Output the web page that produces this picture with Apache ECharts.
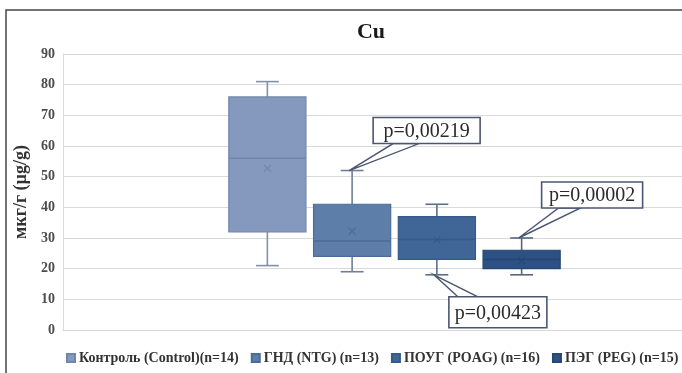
<!DOCTYPE html>
<html>
<head>
<meta charset="utf-8">
<script src="https://cdn.jsdelivr.net/npm/echarts@6/dist/echarts.min.js"></script>
<style>
  html, body { margin: 0; padding: 0; background: #ffffff; }
  #chart { width: 682px; height: 373px; }
</style>
</head>
<body>
<div id="chart"></div>
<script>
// Copper content by group, мкг/г (µg/g)
const groups = ['Контроль (Control)(n=14)', 'ГНД (NTG) (n=13)', 'ПОУГ (POAG) (n=16)', 'ПЭГ (PEG) (n=15)'];
const whiskerMin = [21, 19, 18, 18];
const quartile1 = [32, 24, 23, 20];
const medians = [56, 29, 29.5, 23];
const quartile3 = [76, 41, 37, 26];
const whiskerMax = [81, 52, 41, 30];
const means = [52.7, 32.2, 29.5, 22.7];
const yMin = 0, yMax = 90, yStep = 10;

// significance notes and the whisker end each one points at
const pLabels = ['p=0,00219', 'p=0,00423', 'p=0,00002'];
const pGroup = [1, 2, 3];
const pEnd = ['max', 'min', 'max'];

const fills = ['#8499bd', '#5d7ea9', '#3f6697', '#2d5183'];
const strokes = ['#7086ab', '#4c6c97', '#345a88', '#264673'];
const whiskerColor = ['#8290a8', '#6f7f99', '#5d6e8a', '#56677f'];
const serif = "'Liberation Serif', 'DejaVu Serif', 'Times New Roman', serif";

const chart = echarts.init(document.getElementById('chart'), null, { renderer: 'canvas' });

function renderBox(params, api) {
  const i = params.seriesIndex;
  const cat = api.value(0);
  const lo = api.coord([cat, api.value(1)]);
  const b1 = api.coord([cat, api.value(2)]);
  const md = api.coord([cat, api.value(3)]);
  const b3 = api.coord([cat, api.value(4)]);
  const hi = api.coord([cat, api.value(5)]);
  const mn = api.coord([cat, api.value(6)]);
  const band = api.size([1, 0])[0];
  const w = band * 0.91;
  const cap = band * 0.27;
  const cx = lo[0];
  const wl = { stroke: whiskerColor[i], lineWidth: 1.6 };
  const m = 3.5;
  return {
    type: 'group',
    children: [
      { type: 'line', shape: { x1: cx, y1: hi[1], x2: cx, y2: b3[1] }, style: wl },
      { type: 'line', shape: { x1: cx - cap / 2, y1: hi[1], x2: cx + cap / 2, y2: hi[1] }, style: wl },
      { type: 'line', shape: { x1: cx, y1: lo[1], x2: cx, y2: b1[1] }, style: wl },
      { type: 'line', shape: { x1: cx - cap / 2, y1: lo[1], x2: cx + cap / 2, y2: lo[1] }, style: wl },
      { type: 'rect', shape: { x: cx - w / 2, y: b3[1], width: w, height: b1[1] - b3[1] },
        style: { fill: fills[i], stroke: strokes[i], lineWidth: 1.2 } },
      { type: 'line', shape: { x1: cx - w / 2, y1: md[1], x2: cx + w / 2, y2: md[1] },
        style: { stroke: strokes[i], lineWidth: 1.4 } },
      { type: 'line', shape: { x1: cx - m, y1: mn[1] - m, x2: cx + m, y2: mn[1] + m },
        style: { stroke: strokes[i], lineWidth: 1.1 } },
      { type: 'line', shape: { x1: cx - m, y1: mn[1] + m, x2: cx + m, y2: mn[1] - m },
        style: { stroke: strokes[i], lineWidth: 1.1 } }
    ]
  };
}

const series = groups.map((name, i) => ({
  name: name,
  type: 'custom',
  xAxisIndex: 1,
  yAxisIndex: 1,
  renderItem: renderBox,
  itemStyle: { color: fills[i], borderColor: strokes[i], borderWidth: 1 },
  encode: { x: 0, y: [1, 2, 3, 4, 5, 6] },
  data: [[i, whiskerMin[i], quartile1[i], medians[i], quartile3[i], whiskerMax[i], means[i]]],
  silent: true
}));

chart.setOption({
  animation: false,
  backgroundColor: '#ffffff',
  title: {
    text: 'Cu',
    left: 366,
    top: 16,
    textAlign: 'center',
    textStyle: { fontFamily: serif, fontWeight: 'bold', fontSize: 22, color: '#1a1a1a' }
  },
  legend: {
    left: 66,
    top: 351,
    width: 616,
    padding: 0,
    icon: 'rect',
    itemWidth: 8,
    itemHeight: 8,
    itemGap: 12,
    selectedMode: false,
    textStyle: { fontFamily: serif, fontWeight: 'bold', fontSize: 14, color: '#333333', padding: [0, 0, 0, -1] },
    data: groups
  },
  grid: [
    { left: 63, top: 54, width: 662, height: 276 },
    { left: 225, top: 54, width: 339, height: 276 }
  ],
  xAxis: [
    { gridIndex: 0, type: 'category', data: [''],
      axisLine: { show: true, lineStyle: { color: '#d9d9d9', width: 1 } },
      axisTick: { show: false }, axisLabel: { show: false } },
    { gridIndex: 1, type: 'category', data: groups, show: false }
  ],
  yAxis: [
    { gridIndex: 0, type: 'value', min: yMin, max: yMax, interval: yStep,
      name: 'мкг/г (µg/g)', nameLocation: 'middle', nameGap: 31, nameRotate: 90,
      nameTextStyle: { fontFamily: serif, fontWeight: 'bold', fontSize: 18, color: '#333333' },
      axisLine: { show: true, lineStyle: { color: '#d9d9d9', width: 1 } },
      axisTick: { show: false },
      axisLabel: { fontFamily: serif, fontWeight: 'bold', fontSize: 14, color: '#4d4d4d', margin: 8 },
      splitLine: { show: true, lineStyle: { color: '#dadada', width: 1.2 } } },
    { gridIndex: 1, type: 'value', min: yMin, max: yMax, interval: yStep, show: false,
      splitLine: { show: false } }
  ],
  series: series
});

// callout boxes with a wedge pointing at a whisker end
const calloutLayout = [
  { dx: 24, dy: -53, w: 107, h: 26, base: [44, 70] },
  { dx: 15, dy: 22, w: 98, h: 31, base: [24, 44] },
  { dx: 23, dy: -56, w: 101, h: 26, base: [40, 62] }
];
const edge = '#4b5771';
const graphics = [
  { type: 'rect', silent: true, z: 0, shape: { x: 6, y: 10, width: 800, height: 420 },
    style: { fill: 'none', stroke: '#454545', lineWidth: 1.5 } }
];
pLabels.forEach((label, k) => {
  const g = pGroup[k];
  const v = pEnd[k] === 'max' ? whiskerMax[g] : whiskerMin[g];
  const pt = chart.convertToPixel({ xAxisIndex: 1, yAxisIndex: 1 }, [g, v]);
  const L = calloutLayout[k];
  const tx = pt[0] - 3, ty = pt[1];
  const bx = tx + L.dx, by = ty + L.dy;
  const baseY = L.dy < 0 ? by + L.h : by;
  graphics.push({
    type: 'polygon', silent: true, z: 100,
    shape: { points: [[tx, ty], [tx + L.base[0], baseY], [tx + L.base[1], baseY]] },
    style: { fill: '#ffffff', stroke: edge, lineWidth: 1.4 }
  });
  graphics.push({
    type: 'rect', silent: true, z: 101,
    shape: { x: bx, y: by, width: L.w, height: L.h },
    style: { fill: '#ffffff', stroke: edge, lineWidth: 1.6 }
  });
  graphics.push({
    type: 'text', silent: true, z: 102,
    x: bx + L.w / 2, y: by + L.h / 2 + 1,
    style: { text: label, fill: '#2b2b2b', font: '20px ' + serif, align: 'center', verticalAlign: 'middle' }
  });
});
chart.setOption({ graphic: graphics });
</script>
</body>
</html>
